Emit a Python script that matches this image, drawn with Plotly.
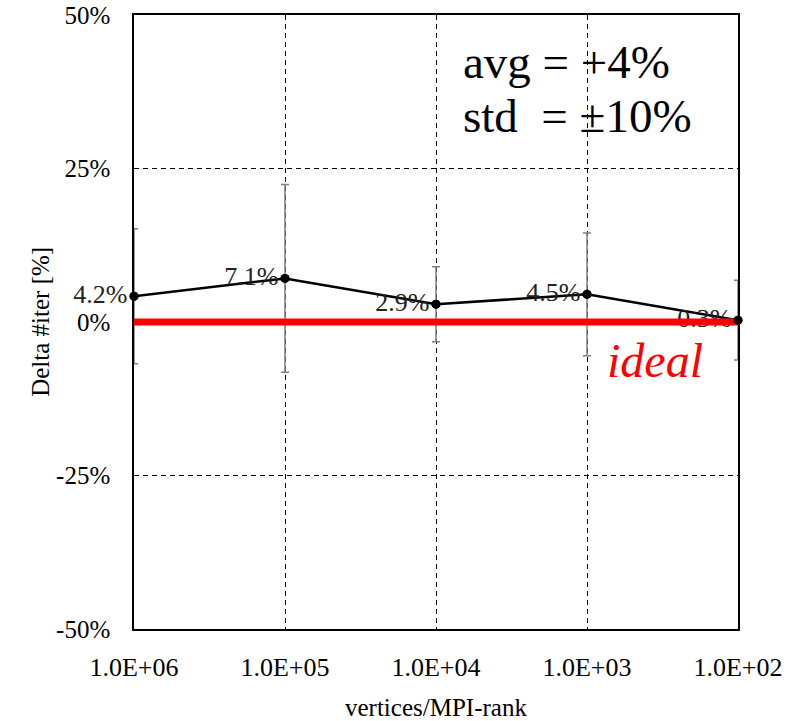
import plotly.graph_objects as go

# Delta in iteration count vs. problem size per MPI rank
vertices_per_rank = [1e6, 1e5, 1e4, 1e3, 1e2]
delta_iter = [4.2, 7.1, 2.9, 4.5, 0.3]
delta_err = [11.0, 15.3, 6.1, 10.0, 6.5]
point_labels = ["4.2%", "7.1%", "2.9%", "4.5%", "0.3%"]

x_tickvals = [1e6, 1e5, 1e4, 1e3, 1e2]
x_ticktext = ["1.0E+06", "1.0E+05", "1.0E+04", "1.0E+03", "1.0E+02"]
y_tickvals = [-50, -25, 0, 25, 50]
y_ticktext = ["-50%", "-25%", "0%", "25%", "50%"]

ideal_x = [1e6, 1e2]
ideal_y = [0, 0]

FONT = "Liberation Serif, Times New Roman, serif"

fig = go.Figure()

# measured series with error bars and value labels
fig.add_trace(go.Scatter(
    x=vertices_per_rank, y=delta_iter,
    mode="lines+markers+text",
    text=point_labels,
    textposition="middle left",
    textfont=dict(family=FONT, size=26, color="#222"),
    line=dict(color="black", width=2.5),
    marker=dict(color="black", size=9),
    error_y=dict(type="data", array=delta_err, visible=True,
                 color="#7f7f7f", thickness=1.5, width=4),
    cliponaxis=False,
    showlegend=False,
))

# ideal reference line
fig.add_trace(go.Scatter(
    x=ideal_x, y=ideal_y, mode="lines",
    line=dict(color="#ff0000", width=7),
    showlegend=False,
))

# markers redrawn on top of the ideal line
fig.add_trace(go.Scatter(
    x=vertices_per_rank, y=delta_iter, mode="markers",
    marker=dict(color="black", size=9),
    cliponaxis=False,
    showlegend=False,
))

axis_common = dict(
    ticks="", automargin=False, layer="above traces",
    showgrid=True, gridcolor="black", gridwidth=1, griddash="5px,4px",
    showline=True, linecolor="black", linewidth=1.5, mirror=True,
    zeroline=False,
)

fig.update_xaxes(
    type="log", range=[6, 2],
    tickvals=x_tickvals, ticktext=x_ticktext,
    ticklabelstandoff=14,
    tickfont=dict(family=FONT, size=26, color="black"),
    **axis_common,
)
fig.update_yaxes(
    range=[-50, 50],
    tickvals=y_tickvals, ticktext=y_ticktext,
    ticklabelstandoff=17,
    tickfont=dict(family=FONT, size=25, color="black"),
    **axis_common,
)

annotations = [
    dict(text="vertices/MPI-rank", xref="paper", yref="paper",
         x=0.5, y=-0.128, xanchor="center", yanchor="middle",
         showarrow=False, font=dict(family=FONT, size=25, color="black")),
    dict(text="Delta #iter [%]", xref="paper", yref="paper",
         x=-0.156, y=0.5, xanchor="center", yanchor="middle", textangle=-90,
         showarrow=False, font=dict(family=FONT, size=25, color="black")),
    dict(text="avg = +4%", xref="paper", yref="paper",
         x=0.541, y=0.923, xanchor="left", yanchor="middle",
         showarrow=False, font=dict(family=FONT, size=47, color="black")),
    dict(text="std\u00a0\u00a0= \u00b110%", xref="paper", yref="paper",
         x=0.541, y=0.836, xanchor="left", yanchor="middle",
         showarrow=False, font=dict(family=FONT, size=47, color="black")),
    dict(text="<i>ideal</i>", xref="paper", yref="paper",
         x=0.779, y=0.438, xanchor="left", yanchor="middle",
         showarrow=False, font=dict(family=FONT, size=48, color="#ff0000")),
]

fig.update_layout(
    width=804, height=721,
    margin=dict(l=134, r=66, t=15, b=92),
    paper_bgcolor="white", plot_bgcolor="white",
    font=dict(family=FONT, color="black"),
    annotations=annotations,
)

fig.write_html("out.html")
